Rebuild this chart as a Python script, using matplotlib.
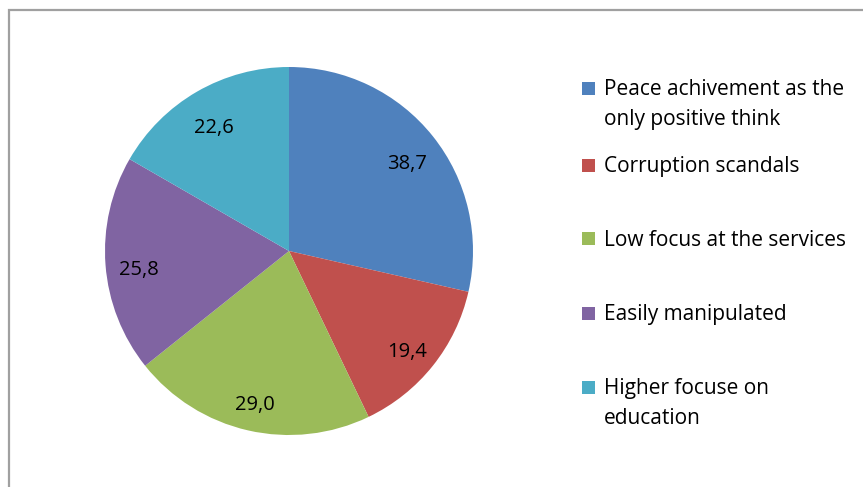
import matplotlib
matplotlib.use("Agg")
from matplotlib import pyplot as plt
from matplotlib.patches import Rectangle

# data
categories = ["Peace achivement as the\nonly positive think",
              "Corruption scandals",
              "Low focus at the services",
              "Easily manipulated",
              "Higher focuse on\neducation"]
values = [38.7, 19.4, 29.0, 25.8, 22.6]
colors = ["#4F81BD", "#C0504D", "#9BBB59", "#8064A2", "#4BACC6"]

W, H = 863, 487
fig = plt.figure(figsize=(W / 100, H / 100), dpi=100)
plt.rcParams['font.family'] = ['Open Sans', 'DejaVu Sans']

# outer chart border (cut off at right and bottom)
fig.patches.append(Rectangle((9 / W, -0.1), 1.2, 1 - 10 / H + 0.1,
                             transform=fig.transFigure, fill=False,
                             ec="#a0a0a0", lw=1.6))

# pie, centre (289, 251) px, radius 184 px
cx, cy, r = 289, 251, 184
ax = fig.add_axes([(cx - r) / W, (H - cy - r) / H, 2 * r / W, 2 * r / H])
total = sum(values)
wedges, texts, autotexts = ax.pie(
    values, colors=colors, startangle=90, counterclock=False,
    radius=1, pctdistance=0.82,
    autopct=lambda p: f"{p * total / 100:.1f}".replace(".", ","),
    wedgeprops=dict(linewidth=0),
    textprops=dict(fontsize=14.5, color="black"))
# value labels sit a little lower in the original
for t in autotexts:
    x, y = t.get_position()
    t.set_position((x, y - 0.04))
ax.set_xlim(-1, 1)
ax.set_ylim(-1, 1)
ax.set_aspect("equal")
ax.axis("off")

# legend drawn by hand so the marker sits on the first text line
row_y = [88, 165, 239, 313, 387]
for lab, col, y in zip(categories, colors, row_y):
    fig.patches.append(Rectangle((582 / W, 1 - (y + 6.5) / H), 13 / W, 13 / H,
                                 transform=fig.transFigure, fc=col, ec="none"))
    fig.text(604 / W, 1 - (y - 9) / H, lab, fontsize=15, va="top",
             ha="left", linespacing=1.55)

fig.savefig("out.png", dpi=100)
